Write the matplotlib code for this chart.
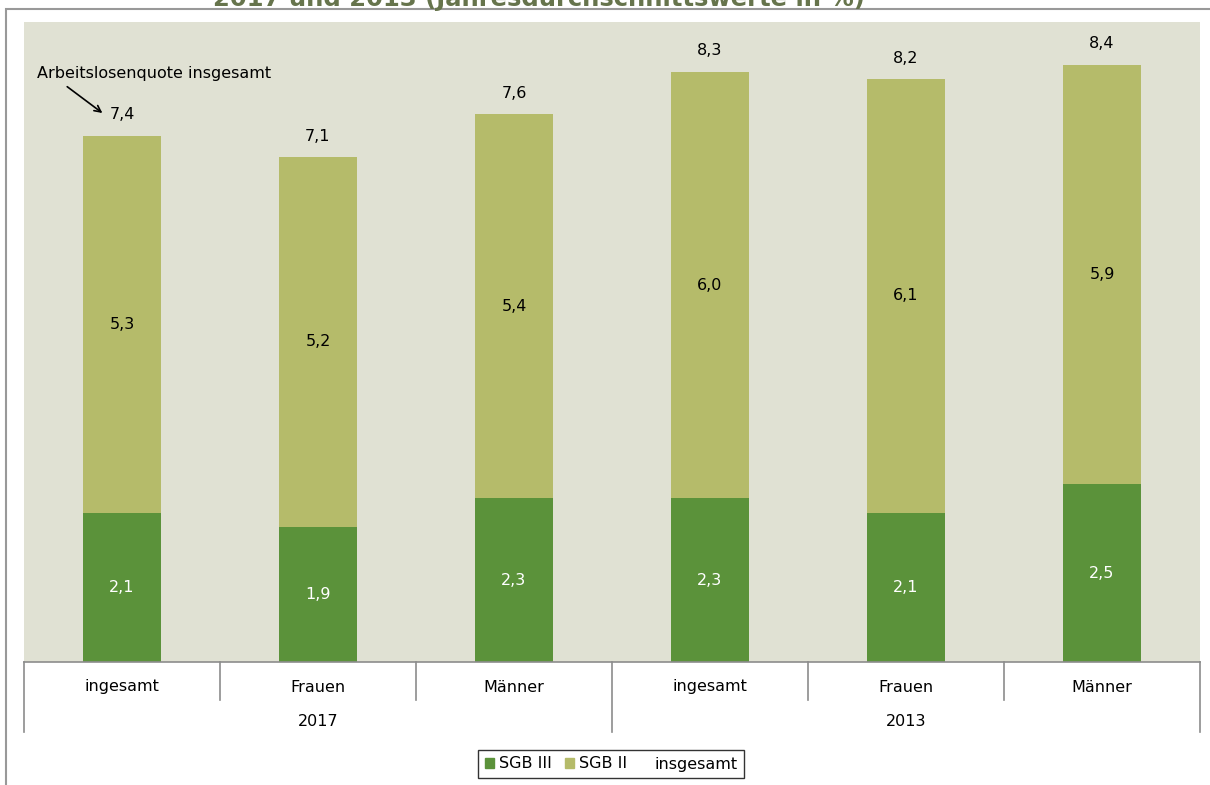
import matplotlib
matplotlib.use("Agg")
import matplotlib.pyplot as plt
from matplotlib.patches import Rectangle
from matplotlib.lines import Line2D
import matplotlib.transforms as mtransforms
import numpy as np

# Data
categories = ["ingesamt", "Frauen", "Männer", "ingesamt", "Frauen", "Männer"]
groups = ["2017", "2013"]
sgb3 = [2.1, 1.9, 2.3, 2.3, 2.1, 2.5]
sgb2 = [5.3, 5.2, 5.4, 6.0, 6.1, 5.9]
totals = [7.4, 7.1, 7.6, 8.3, 8.2, 8.4]

C_SGB3 = "#5b923a"
C_SGB2 = "#b5bb6a"
C_BG = "#e0e1d3"
C_LINE = "#8c8c8c"
FS = 11.5

def fmt(v):
    return f"{v:.1f}".replace(".", ",")

plt.rcParams["font.family"] = ["DejaVu Sans"]
W, H = 1210, 785
fig = plt.figure(figsize=(W / 100, H / 100), dpi=100)
ax = fig.add_axes([24 / W, (H - 662) / H, (1200 - 24) / W, (662 - 22) / H])
ax.set_facecolor(C_BG)

x = np.arange(len(categories))
bw = 0.4
ax.bar(x, sgb3, bw, color=C_SGB3, label="SGB III")
ax.bar(x, sgb2, bw, bottom=sgb3, color=C_SGB2, label="SGB II")
tops = np.array(sgb3) + np.array(sgb2)
ax.plot(x, tops, linestyle="none", label="insgesamt")

for i in range(len(x)):
    ax.text(x[i], sgb3[i] / 2, fmt(sgb3[i]), ha="center", va="center", color="white", fontsize=FS)
    ax.text(x[i], sgb3[i] + sgb2[i] / 2, fmt(sgb2[i]), ha="center", va="center", color="black", fontsize=FS)
    ax.annotate(fmt(totals[i]), (x[i], tops[i]), xytext=(0, 15), textcoords="offset points",
                ha="center", va="center", fontsize=FS)

ax.annotate("Arbeitslosenquote insgesamt", xy=(-0.1, 7.72), xytext=(-0.435, 8.27),
            ha="left", va="center", fontsize=FS,
            arrowprops=dict(arrowstyle="->", color="black", lw=1.2, relpos=(0.1, 0.0),
                            shrinkA=3, shrinkB=0))

ax.set_xlim(-0.5, len(x) - 0.5)
ax.set_ylim(0, 9)
ax.set_yticks([])
ax.set_xticks([])
for s in ["top", "left", "right"]:
    ax.spines[s].set_visible(False)
ax.spines["bottom"].set_color(C_LINE)
ax.spines["bottom"].set_linewidth(1.2)

# category table below the axis
trans = mtransforms.blended_transform_factory(ax.transData, ax.transAxes)
ph = 662 - 22
y_inner = -(700 - 662) / ph
y_outer = -(732 - 662) / ph
for b in np.arange(-0.5, len(x), 1.0):
    edge = (b == -0.5) or (b == len(x) - 0.5) or (b == 2.5)
    ax.plot([b, b], [0, y_outer if edge else y_inner], color=C_LINE, lw=1.2,
            transform=trans, clip_on=False)
for i, c in enumerate(categories):
    ax.text(i, -(687 - 662) / ph, c, ha="center", va="center", fontsize=FS, transform=trans)
for g, name in enumerate(groups):
    ax.text(g * 3 + 1, -(722 - 662) / ph, name, ha="center", va="center", fontsize=FS, transform=trans)

# outer frame and the title, which sits partly outside the picture
fig.patches.append(Rectangle((6 / W, -0.1), 1.2, 1.1 - 9 / H, transform=fig.transFigure,
                             fill=False, edgecolor="#999999", lw=1.5))
fig.text(539 / W, 1 - 6 / H, "2017 und 2013 (Jahresdurchschnittswerte in %)", ha="center",
         va="baseline", fontsize=17.5, fontweight="bold", color="#66744c")

handles = [Rectangle((0, 0), 1, 1, color=C_SGB3), Rectangle((0, 0), 1, 1, color=C_SGB2),
           Line2D([], [], linestyle="none")]
leg = fig.legend(handles, ["SGB III", "SGB II", "insgesamt"], loc="center",
                 bbox_to_anchor=(611 / W, (H - 764) / H), ncol=3, frameon=True, fancybox=False,
                 fontsize=FS, handlelength=0.6, handleheight=0.6, handletextpad=0.3,
                 columnspacing=0.8, borderpad=0.4)
leg.get_frame().set_edgecolor("black")
leg.get_frame().set_linewidth(1.0)

fig.savefig("out.png", dpi=100)
